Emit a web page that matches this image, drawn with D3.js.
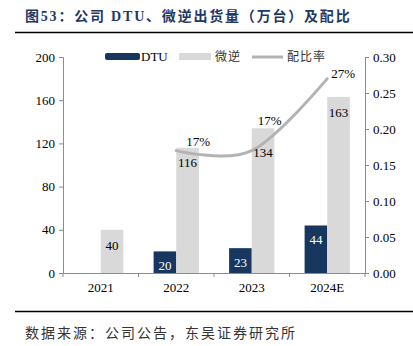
<!DOCTYPE html>
<html>
<head>
<meta charset="utf-8">
<script src="https://cdn.jsdelivr.net/npm/d3@7"></script>
<style>
  body { margin: 0; background: #fff; }
  svg { display: block; font-family: "Liberation Serif", "Noto Sans CJK SC", serif; }
</style>
</head>
<body>
<main></main>
<script>
const years = ["2021", "2022", "2023", "2024E"];
const dtu = [null, 20, 23, 44];
const micro = [40, 116, 134, 163];
const ratio = [null, 0.17, 0.17, 0.27];
const ratioLabels = [null, "17%", "17%", "27%"];
const leftTicks = [0, 40, 80, 120, 160, 200];
const rightTicks = [0, 0.05, 0.1, 0.15, 0.2, 0.25, 0.3];

const w = 413;
const h = 346;
const plotLeft = 63;
const plotRight = 365;
const plotTop = 57;
const plotBottom = 273;

const navy = "#17375e";
const grey = "#d9d9d9";
const lineGrey = "#b3b3b3";
const axisGrey = "#8c8c8c";

const svg = d3.select("main").append("svg").attr("width", w).attr("height", h);

// title and rules
svg.append("text")
  .attr("x", 25).attr("y", 21)
  .attr("font-size", 14).attr("font-weight", "bold")
  .attr("letter-spacing", 1.8)
  .attr("fill", "#1f3864")
  .attr("font-family", "'Liberation Serif', 'Noto Sans CJK SC'")
  .text("图53：公司 DTU、微逆出货量（万台）及配比");

svg.append("line").attr("x1", 15).attr("x2", 413).attr("y1", 32.5).attr("y2", 32.5)
  .attr("stroke", "#000").attr("stroke-width", 1.5);
svg.append("line").attr("x1", 15).attr("x2", 413).attr("y1", 311.5).attr("y2", 311.5)
  .attr("stroke", "#000").attr("stroke-width", 1.5);

svg.append("text")
  .attr("x", 25).attr("y", 338)
  .attr("font-size", 14).attr("fill", "#333")
  .attr("letter-spacing", 2)
  .attr("font-family", "'Noto Sans CJK SC'")
  .text("数据来源：公司公告，东吴证券研究所");

// scales
const x0 = d3.scaleBand().domain(years).range([plotLeft, plotRight]).padding(0);
const barW = x0.bandwidth() * 0.3;
const y = d3.scaleLinear().domain([0, 200]).range([plotBottom, plotTop]);
const y2 = d3.scaleLinear().domain([0, 0.3]).range([plotBottom, plotTop]);

// axes
const axisL = svg.append("g")
  .attr("transform", `translate(${plotLeft},0)`)
  .call(d3.axisLeft(y).tickValues(leftTicks).tickSize(4).tickPadding(4));
const axisR = svg.append("g")
  .attr("transform", `translate(${plotRight},0)`)
  .call(d3.axisRight(y2).tickValues(rightTicks).tickFormat(d3.format(".2f")).tickSize(4).tickPadding(4));
const axisB = svg.append("g")
  .attr("transform", `translate(0,${plotBottom})`)
  .call(d3.axisBottom(x0).tickSize(0).tickPadding(10));

[axisL, axisR, axisB].forEach((g) => {
  g.selectAll("path, line").attr("stroke", axisGrey);
  g.selectAll("text").attr("font-size", 13).attr("fill", "#000")
    .attr("font-family", "'Liberation Serif'");
});

// bottom ticks at band boundaries
svg.append("g").selectAll("line")
  .data(years.concat(["end"]))
  .join("line")
  .attr("x1", (d, i) => plotLeft + i * x0.step())
  .attr("x2", (d, i) => plotLeft + i * x0.step())
  .attr("y1", plotBottom).attr("y2", plotBottom + 4)
  .attr("stroke", axisGrey);

// bars
const dtuBars = years.map((yr, i) => ({ yr, v: dtu[i] })).filter((d) => d.v != null);
const microBars = years.map((yr, i) => ({ yr, v: micro[i] }));

svg.append("g").selectAll("rect")
  .data(dtuBars)
  .join("rect")
  .attr("x", (d) => x0(d.yr) + x0.bandwidth() / 2 - barW)
  .attr("y", (d) => y(d.v))
  .attr("width", barW)
  .attr("height", (d) => plotBottom - y(d.v))
  .attr("fill", navy);

svg.append("g").selectAll("rect")
  .data(microBars)
  .join("rect")
  .attr("x", (d) => x0(d.yr) + x0.bandwidth() / 2)
  .attr("y", (d) => y(d.v))
  .attr("width", barW)
  .attr("height", (d) => plotBottom - y(d.v))
  .attr("fill", grey);

// ratio line
const linePts = years.map((yr, i) => ({ yr, v: ratio[i], lab: ratioLabels[i] })).filter((d) => d.v != null);
const line = d3.line()
  .x((d) => x0(d.yr) + x0.bandwidth() / 2)
  .y((d) => y2(d.v))
  .curve(d3.curveCardinal.tension(0));

svg.append("path")
  .datum(linePts)
  .attr("d", line)
  .attr("fill", "none")
  .attr("stroke", lineGrey)
  .attr("stroke-width", 3)
  .attr("stroke-linecap", "round");

// labels
const dtuLabelDy = 19;
svg.append("g").selectAll("text")
  .data(dtuBars)
  .join("text")
  .attr("x", (d) => x0(d.yr) + x0.bandwidth() / 2 - barW / 2)
  .attr("y", (d) => y(d.v) + dtuLabelDy)
  .attr("text-anchor", "middle")
  .attr("font-size", 13)
  .attr("fill", "#fff")
  .text((d) => d.v);

const microLabelDy = [20, 19, 29, 20];
svg.append("g").selectAll("text")
  .data(microBars)
  .join("text")
  .attr("x", (d) => x0(d.yr) + x0.bandwidth() / 2 + barW / 2)
  .attr("y", (d, i) => y(d.v) + microLabelDy[i])
  .attr("text-anchor", "middle")
  .attr("font-size", 13)
  .attr("fill", "#000")
  .text((d) => d.v);

const ratioLabelOff = [[22, -5], [18, -26], [16, -1]];
svg.append("g").selectAll("text")
  .data(linePts)
  .join("text")
  .attr("x", (d, i) => x0(d.yr) + x0.bandwidth() / 2 + ratioLabelOff[i][0])
  .attr("y", (d, i) => y2(d.v) + ratioLabelOff[i][1])
  .attr("text-anchor", "middle")
  .attr("font-size", 13)
  .attr("fill", "#000")
  .text((d) => d.lab);

// legend
const legend = svg.append("g").attr("font-size", 13);
legend.append("rect").attr("x", 105).attr("y", 53).attr("width", 35).attr("height", 7)
  .attr("rx", 2).attr("fill", navy);
legend.append("text").attr("x", 141).attr("y", 61).attr("font-family", "'Liberation Serif'").text("DTU");
legend.append("rect").attr("x", 179).attr("y", 53).attr("width", 32).attr("height", 7)
  .attr("fill", grey);
legend.append("text").attr("x", 215).attr("y", 61).attr("font-size", 12)
  .attr("letter-spacing", 1)
  .attr("font-family", "'Noto Sans CJK SC'").attr("fill", "#333").text("微逆");
legend.append("line").attr("x1", 252).attr("x2", 283).attr("y1", 57).attr("y2", 57)
  .attr("stroke", lineGrey).attr("stroke-width", 3);
legend.append("text").attr("x", 287).attr("y", 61).attr("font-size", 12)
  .attr("letter-spacing", 1)
  .attr("font-family", "'Noto Sans CJK SC'").attr("fill", "#333").text("配比率");
</script>
</body>
</html>
